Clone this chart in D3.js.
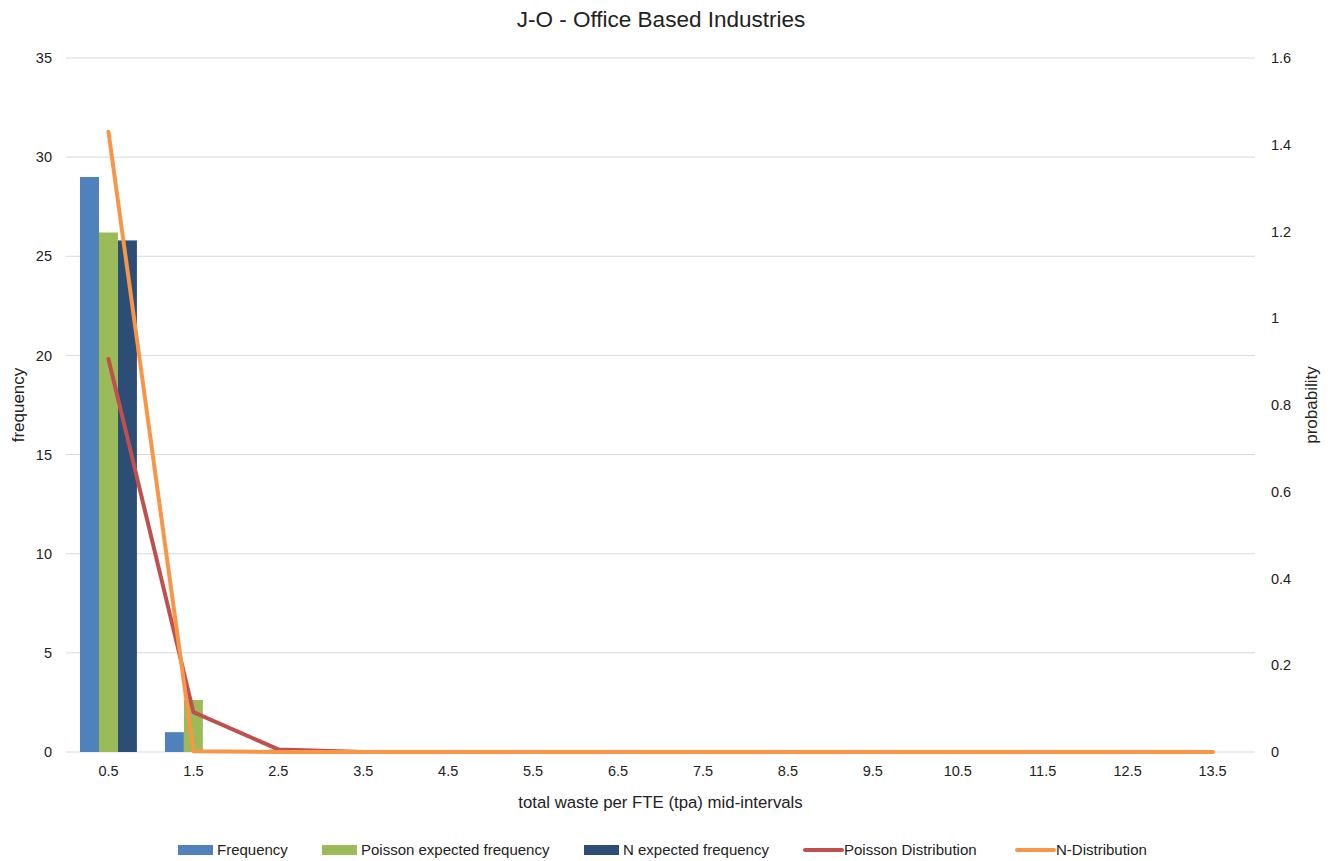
<!DOCTYPE html>
<html>
<head>
<meta charset="utf-8">
<script src="https://d3js.org/d3.v7.min.js"></script>
<style>
  body { margin: 0; background: #fff; }
  text { font-family: "Liberation Sans", Arial, sans-serif; fill: #222; }
</style>
</head>
<body>
<div id="chart-area"></div>
<script>
  // Data
  var categories = ['0.5', '1.5', '2.5', '3.5', '4.5', '5.5', '6.5', '7.5', '8.5', '9.5', '10.5', '11.5', '12.5', '13.5'];
  var frequency = [29, 1, 0, 0, 0, 0, 0, 0, 0, 0, 0, 0, 0, 0];
  var poissonExpected = [26.2, 2.62, 0.13, 0, 0, 0, 0, 0, 0, 0, 0, 0, 0, 0];
  var nExpected = [25.8, 0.03, 0, 0, 0, 0, 0, 0, 0, 0, 0, 0, 0, 0];
  var poissonDist = [0.906, 0.092, 0.006, 0.0002, 0, 0, 0, 0, 0, 0, 0, 0, 0, 0];
  var nDist = [1.43, 0.002, 0, 0, 0, 0, 0, 0, 0, 0, 0, 0, 0, 0];
  var leftTicks = [0, 5, 10, 15, 20, 25, 30, 35];
  var rightTicks = [0, 0.2, 0.4, 0.6, 0.8, 1, 1.2, 1.4, 1.6];

  var barSeries = [
    {name: 'Frequency', values: frequency, color: '#4f81bd'},
    {name: 'Poisson expected frequency', values: poissonExpected, color: '#9bbb59'},
    {name: 'N expected frequency', values: nExpected, color: '#2c4d75'}
  ];
  var lineSeries = [
    {name: 'Poisson Distribution', values: poissonDist, color: '#c0504d'},
    {name: 'N-Distribution', values: nDist, color: '#f79646'}
  ];

  var W = 1333, H = 861;
  var margin = {left: 66, right: 78, top: 58, bottom: 109};
  var width = W - margin.left - margin.right,
      height = H - margin.top - margin.bottom;

  var svg = d3.select('#chart-area')
    .append('svg')
    .attr('width', W)
    .attr('height', H);
  var g = svg.append('g')
    .attr('transform', 'translate(' + margin.left + ',' + margin.top + ')');

  // Scales
  var x = d3.scaleBand().domain(categories).range([0, width]);
  var xInner = d3.scaleBand()
    .domain(barSeries.map(function(s) { return s.name; }))
    .range([x.bandwidth() * 0.165, x.bandwidth() * 0.835]);
  var yL = d3.scaleLinear().domain([0, 35]).range([height, 0]);
  var yR = d3.scaleLinear().domain([0, 1.6]).range([height, 0]);

  // Gridlines
  g.selectAll('.grid')
    .data(leftTicks)
    .enter().append('line')
    .attr('x1', 0).attr('x2', width)
    .attr('y1', function(d) { return yL(d); })
    .attr('y2', function(d) { return yL(d); })
    .attr('stroke', '#d9d9d9')
    .attr('stroke-width', 1);

  // Axes
  var leftAxis = g.append('g')
    .call(d3.axisLeft(yL).tickValues(leftTicks).tickSize(0).tickPadding(14));
  var rightAxis = g.append('g')
    .attr('transform', 'translate(' + width + ',0)')
    .call(d3.axisRight(yR).tickValues(rightTicks).tickSize(0).tickPadding(16)
      .tickFormat(function(d) { return d3.format('~g')(d); }));
  var bottomAxis = g.append('g')
    .attr('transform', 'translate(0,' + height + ')')
    .call(d3.axisBottom(x).tickSize(0).tickPadding(14));
  [leftAxis, rightAxis, bottomAxis].forEach(function(a) {
    a.select('.domain').remove();
    a.selectAll('text').attr('font-size', '14.5px').attr('fill', '#222')
      .style('font-family', '"Liberation Sans", Arial, sans-serif');
  });

  // Bars
  barSeries.forEach(function(s) {
    g.selectAll(null)
      .data(s.values)
      .enter().append('rect')
      .attr('x', function(d, i) { return x(categories[i]) + xInner(s.name); })
      .attr('y', function(d) { return yL(d); })
      .attr('width', xInner.bandwidth())
      .attr('height', function(d) { return height - yL(d); })
      .attr('fill', s.color);
  });

  // Lines (right axis)
  var line = d3.line()
    .x(function(d, i) { return x(categories[i]) + x.bandwidth() / 2; })
    .y(function(d) { return yR(d); });
  lineSeries.forEach(function(s) {
    g.append('path')
      .attr('fill', 'none')
      .attr('stroke', s.color)
      .attr('stroke-width', 4)
      .attr('stroke-linejoin', 'round')
      .attr('stroke-linecap', 'round')
      .attr('d', line(s.values));
  });

  // Title & axis labels
  svg.append('text')
    .attr('x', 661).attr('y', 27)
    .attr('text-anchor', 'middle')
    .attr('font-size', '22.5px')
    .text('J-O - Office Based Industries');
  svg.append('text')
    .attr('x', margin.left + width / 2).attr('y', 808)
    .attr('text-anchor', 'middle')
    .attr('font-size', '16.8px')
    .text('total waste per FTE (tpa) mid-intervals');
  svg.append('text')
    .attr('transform', 'translate(24,' + (margin.top + height / 2) + ') rotate(-90)')
    .attr('text-anchor', 'middle')
    .attr('font-size', '17px')
    .text('frequency');
  svg.append('text')
    .attr('transform', 'translate(1317,' + (margin.top + height / 2) + ') rotate(-90)')
    .attr('text-anchor', 'middle')
    .attr('font-size', '17px')
    .text('probability');

  // Legend
  var legendItems = [
    {s: barSeries[0], type: 'bar', x: 178},
    {s: barSeries[1], type: 'bar', x: 322},
    {s: barSeries[2], type: 'bar', x: 584},
    {s: lineSeries[0], type: 'line', x: 805},
    {s: lineSeries[1], type: 'line', x: 1017}
  ];
  var legend = svg.append('g').attr('transform', 'translate(0,850)');
  legendItems.forEach(function(it) {
    if (it.type === 'bar') {
      legend.append('rect')
        .attr('x', it.x).attr('y', -5)
        .attr('width', 35).attr('height', 10)
        .attr('fill', it.s.color);
    } else {
      legend.append('line')
        .attr('x1', it.x).attr('x2', it.x + 37)
        .attr('y1', 0).attr('y2', 0)
        .attr('stroke', it.s.color)
        .attr('stroke-width', 4)
        .attr('stroke-linecap', 'round');
    }
    legend.append('text')
      .attr('x', it.x + 39).attr('y', 5)
      .attr('font-size', '15px')
      .text(it.s.name);
  });
</script>
</body>
</html>
